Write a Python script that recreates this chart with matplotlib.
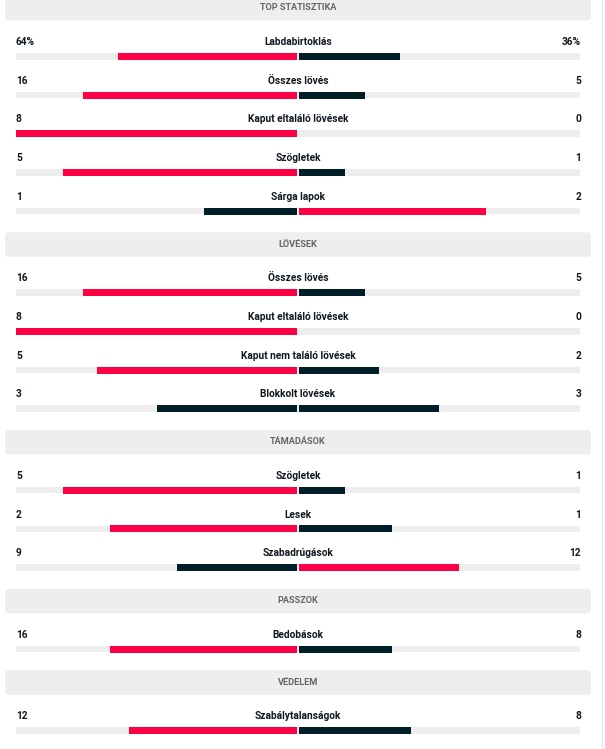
import matplotlib.pyplot as plt
from matplotlib.patches import FancyBboxPatch

plt.rcParams['font.family'] = ['Roboto', 'DejaVu Sans']

# Szekciók és statisztikák
sections = ['TOP STATISZTIKA', 'LÖVÉSEK', 'TÁMADÁSOK', 'PASSZOK', 'VÉDELEM']
section_stats = [
    ['Labdabirtoklás', 'Összes lövés', 'Kaput eltaláló lövések', 'Szögletek', 'Sárga lapok'],
    ['Összes lövés', 'Kaput eltaláló lövések', 'Kaput nem találó lövések', 'Blokkolt lövések'],
    ['Szögletek', 'Lesek', 'Szabadrúgások'],
    ['Bedobások'],
    ['Szabálytalanságok'],
]
home_values = [
    [64, 16, 8, 5, 1],
    [16, 8, 5, 3],
    [5, 2, 9],
    [16],
    [12],
]
away_values = [
    [36, 5, 0, 1, 2],
    [5, 0, 2, 3],
    [1, 1, 12],
    [8],
    [8],
]
pct_stats = ['Labdabirtoklás']

RED = '#ff0046'
DARK = '#001e28'
TRACK = '#eeeeee'
TXT = '#101820'

fig = plt.figure(figsize=(6.05, 7.49), dpi=100)
ax = fig.add_axes([0, 0, 1, 1])
ax.set_xlim(0, 605)
ax.set_ylim(749, 0)
ax.axis('off')

x_left, x_right = 16, 580
center = 298
half = center - x_left
gap = 1.3

y = 8  # fejléc szöveg közepe
for sec, stats, hv, av in zip(sections, section_stats, home_values, away_values):
    ax.add_patch(FancyBboxPatch((5, y - 12), 586, 24.5,
                                boxstyle='round,pad=0,rounding_size=4',
                                fc='#eeeeee', ec='none'))
    ax.text(298, y, sec, ha='center', va='center',
            fontsize=6.6, color='#666666', fontweight='bold')
    y += 34
    for name, h, a in zip(stats, hv, av):
        ax.text(center, y, name, ha='center', va='center', fontsize=7.3,
                fontweight='bold', color=TXT)
        suffix = '%' if name in pct_stats else ''
        ax.text(x_left, y, f'{h}{suffix}', ha='left', va='center', fontsize=7.3,
                fontweight='bold', color=TXT)
        ax.text(x_right + 1, y, f'{a}{suffix}', ha='right', va='center', fontsize=7.3,
                fontweight='bold', color=TXT)
        by = y + 14.3
        ax.barh(by, x_right - x_left, left=x_left, height=6.5, color=TRACK)
        total = h + a
        hc = RED if h > a else DARK
        ac = RED if a > h else DARK
        hw = half * h / total - gap
        aw = half * a / total - gap
        if h > 0:
            ax.barh(by, hw, left=center - gap - hw, height=7, color=hc)
        if a > 0:
            ax.barh(by, aw, left=center + gap, height=7, color=ac)
        y += 38.7
    y += 47.5 - 38.7

ax.plot([602, 602], [0, 749], color='#e6e6e6', lw=1)

fig.savefig('out.png', dpi=100)
